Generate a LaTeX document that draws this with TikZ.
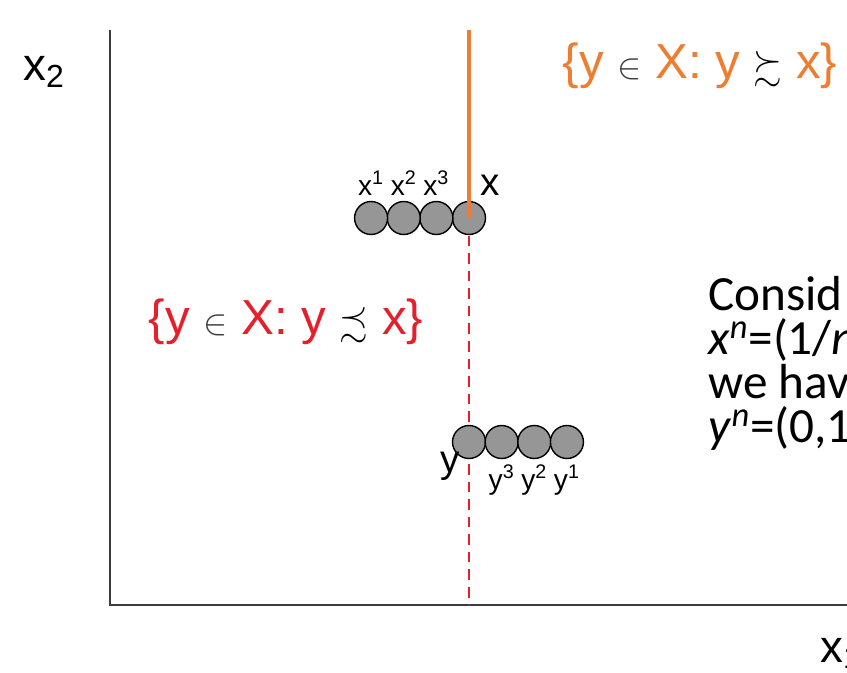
\documentclass[tikz,border=0pt]{standalone}
\usepackage{amsmath,amssymb}
\usepackage{fontspec}
\setmainfont{Liberation Sans}
\newfontfamily\calibri{Carlito}
\usetikzlibrary{positioning}
\definecolor{setorange}{RGB}{237,125,49}
\definecolor{setred}{RGB}{228,32,44}
\definecolor{axisgray}{RGB}{60,60,60}
\definecolor{discgray}{RGB}{150,150,150}
\tikzset{
  disc/.style={circle, draw=black, fill=discgray, line width=0.8pt,
    minimum size=0.66cm, inner sep=0pt},
  smalllbl/.style={font=\fontsize{16}{18}\selectfont, inner sep=1pt},
  ptlbl/.style={font=\fontsize{22}{24}\selectfont, inner sep=1pt},
  setlbl/.style={font=\fontsize{28}{30}\selectfont, inner sep=0pt},
  remarkline/.style={anchor=base west, inner sep=0pt,
    font=\calibri\fontsize{28}{28}\selectfont}
}
\newcommand{\relsym}[2]{{\color{#1}\fontsize{21}{21}\selectfont$#2$}}

\begin{document}
\begin{tikzpicture}[x=0.02cm, y=-0.02cm]
    \useasboundingbox (0,0) rectangle (847,672);
    \clip (0,0) rectangle (847,672);
    % axes
    \draw[axisgray, line width=1.2pt] (110,30) -- (110,605) -- (860,605);
    \node[font=\fontsize{26}{28}\selectfont] (xtwo) at (44,72) {x$_{\text{2}}$};
    \node[font=\fontsize{26}{28}\selectfont, anchor=base west] (xone) at (814,662) {x$_{\text{1}}$};
    % lower contour, dashed
    \coordinate (top) at (469,30);
    \coordinate (bot) at (469,605);
    \draw[setred, line width=1.4pt, dash pattern=on 6pt off 4pt] (469,218) -- (bot);
    % sequence y^n approaching y from the right
    \node[disc] (y) at (469,442) {};
    \node[disc, right=-1pt of y] (ythree) {};
    \node[disc, right=-1pt of ythree] (ytwo) {};
    \node[disc, right=-1pt of ytwo] (yone) {};
    \node[ptlbl, anchor=north east] (ylbl) at (462,450) {y};
    \node[smalllbl, below=2pt of ythree] (ythreelbl) {y\textsuperscript{3}};
    \node[smalllbl, below=2pt of ytwo] (ytwolbl) {y\textsuperscript{2}};
    \node[smalllbl, below=2pt of yone] (yonelbl) {y\textsuperscript{1}};
    % sequence x^n approaching x from the left
    \node[disc] (x) at (469,218) {};
    \node[disc, left=-1pt of x] (xthree) {};
    \node[disc, left=-1pt of xthree] (xtwo) {};
    \node[disc, left=-1pt of xtwo] (xone) {};
    \node[smalllbl, above=2pt of xone] (xonelbl) {x\textsuperscript{1}};
    \node[smalllbl, above=2pt of xtwo] (xtwolbl) {x\textsuperscript{2}};
    \node[smalllbl, above=2pt of xthree] (xthreelbl) {x\textsuperscript{3}};
    \node[ptlbl, anchor=south west] (xlbl) at (478,198) {x};
    % upper contour, solid
    \draw[setorange, line width=2.6pt] (top) -- (x.center);
    % set labels
    \node[setlbl, setorange] (upper) at (700,66)
      {\{y \relsym{axisgray}{\in} X: y \relsym{black}{\succsim} x\}};
    \node[setlbl, setred] (lower) at (286,322)
      {\{y \relsym{axisgray}{\in} X: y \relsym{black}{\precsim} x\}};
    % remark on the right, cut by the frame
    \node[remarkline] (rmone) at (708,310) {Consid};
    \node[remarkline] (rmtwo) at (708,354) {\textit{x}\textsuperscript{\textit{n}}=(1/\textit{n}};
    \node[remarkline] (rmthree) at (708,398) {we hav};
    \node[remarkline] (rmfour) at (708,442) {\textit{y}\textsuperscript{\textit{n}}=(0,1};
\end{tikzpicture}
\end{document}
